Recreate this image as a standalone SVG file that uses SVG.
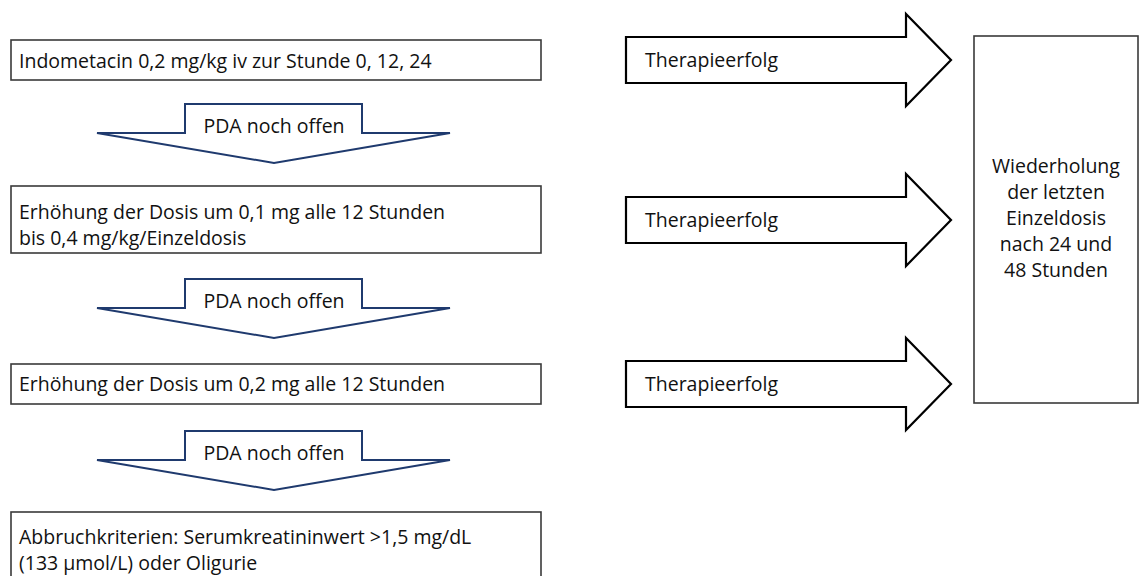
<svg xmlns="http://www.w3.org/2000/svg" width="1140" height="576" viewBox="0 0 1140 576">
  <defs>
    <style>
      .box { fill: #ffffff; stroke: #3a3a3a; stroke-width: 1.6; }
      .down { fill: #ffffff; stroke: #1f3a6e; stroke-width: 2; stroke-linejoin: miter; }
      .right { fill: #ffffff; stroke: #000000; stroke-width: 2.2; stroke-linejoin: miter; }
      .t { font-family: "Open Sans", "Liberation Sans", sans-serif; font-size: 19.5px; fill: #111111; }
      .c { text-anchor: middle; }
    </style>
  </defs>

  <rect width="1140" height="576" fill="#ffffff"/>

  <!-- left column: dosing steps -->
  <g id="step1">
    <rect class="box" x="11" y="40" width="530" height="40"/>
    <text class="t" x="19" y="68">Indometacin 0,2 mg/kg iv zur Stunde 0, 12, 24</text>
  </g>

  <g id="step2">
    <rect class="box" x="11" y="186" width="530" height="67"/>
    <text class="t" x="19" y="219">Erhöhung der Dosis um 0,1 mg alle 12 Stunden</text>
    <text class="t" x="19" y="244.5">bis 0,4 mg/kg/Einzeldosis</text>
  </g>

  <g id="step3">
    <rect class="box" x="11" y="364" width="530" height="40"/>
    <text class="t" x="19" y="391">Erhöhung der Dosis um 0,2 mg alle 12 Stunden</text>
  </g>

  <g id="stop">
    <rect class="box" x="11" y="512" width="530" height="66"/>
    <text class="t" x="19" y="544">Abbruchkriterien: Serumkreatininwert &gt;1,5 mg/dL</text>
    <text class="t" x="19" y="569.5">(133 µmol/L) oder Oligurie</text>
  </g>

  <!-- right column: outcome -->
  <g id="repeat">
    <rect class="box" x="974" y="36" width="164" height="367"/>
    <text class="t c" x="1056" y="173">Wiederholung</text>
    <text class="t c" x="1056" y="199">der letzten</text>
    <text class="t c" x="1056" y="225">Einzeldosis</text>
    <text class="t c" x="1056" y="251">nach 24 und</text>
    <text class="t c" x="1056" y="277">48 Stunden</text>
  </g>

  <!-- connectors: block arrows -->
  <g id="connectors">
    <g id="open1">
      <path class="down" d="M185,104 H362 V133 H450 L274,163 L97,133 H185 Z"/>
      <text class="t c" x="274" y="133">PDA noch offen</text>
    </g>
    <g id="open2">
      <path class="down" d="M185,279 H362 V308 H450 L274,338 L97,308 H185 Z"/>
      <text class="t c" x="274" y="308">PDA noch offen</text>
    </g>
    <g id="open3">
      <path class="down" d="M185,431 H362 V460 H450 L274,490 L97,460 H185 Z"/>
      <text class="t c" x="274" y="460">PDA noch offen</text>
    </g>

    <g id="success1">
      <path class="right" d="M626,37 H906 V14 L951,60 L906,106 V83 H626 Z"/>
      <text class="t" x="645" y="67">Therapieerfolg</text>
    </g>
    <g id="success2">
      <path class="right" d="M626,197 H906 V174 L951,220 L906,266 V243 H626 Z"/>
      <text class="t" x="645" y="227">Therapieerfolg</text>
    </g>
    <g id="success3">
      <path class="right" d="M626,361 H906 V338 L951,384 L906,430 V407 H626 Z"/>
      <text class="t" x="645" y="391">Therapieerfolg</text>
    </g>
  </g>
</svg>
